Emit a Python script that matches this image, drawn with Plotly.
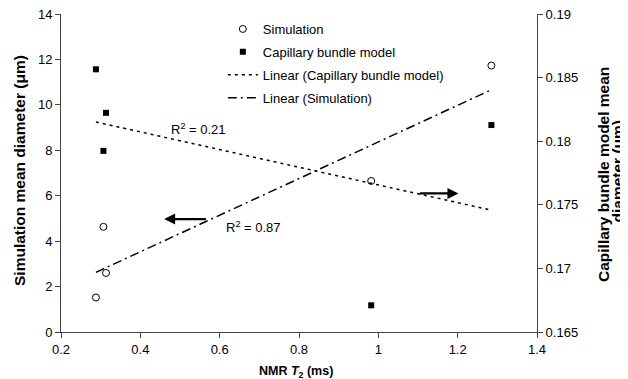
import numpy as np
import plotly.graph_objects as go

# Data
t2_ms = [0.288, 0.307, 0.3135, 0.982, 1.285]
sim_diam = [1.52, 4.63, 2.60, 6.65, 11.73]
cap_diam = [0.18565, 0.17924, 0.18223, 0.1671, 0.18127]
r2_labels = ["R<sup>2</sup> = 0.21", "R<sup>2</sup> = 0.87"]

x_ticks = [0.2, 0.4, 0.6, 0.8, 1.0, 1.2, 1.4]
x_ticktext = ["0.2", "0.4", "0.6", "0.8", "1", "1.2", "1.4"]
left_ticks = [0, 2, 4, 6, 8, 10, 12, 14]
right_ticks = [0.165, 0.17, 0.175, 0.18, 0.185, 0.19]
right_ticktext = ["0.165", "0.17", "0.175", "0.18", "0.185", "0.19"]

FONT = "Liberation Sans, Arial, sans-serif"

# Linear trend lines (least squares, as in the original spreadsheet)
x = np.array(t2_ms)
xs = np.array([x.min(), x.max()])
ps = np.polyfit(x, np.array(sim_diam), 1)
pc = np.polyfit(x, np.array(cap_diam), 1)

fig = go.Figure()
fig.add_trace(go.Scatter(
    x=t2_ms, y=sim_diam, mode="markers", name="Simulation", legendgroup="a",
    marker=dict(symbol="circle-open", size=7, color="black", line=dict(width=1, color="black")),
))
fig.add_trace(go.Scatter(
    x=t2_ms, y=cap_diam, mode="markers", name="Capillary bundle model", legendgroup="b",
    yaxis="y2", marker=dict(symbol="square", size=6, color="black"),
))
fig.add_trace(go.Scatter(
    x=xs, y=np.polyval(pc, xs), mode="lines", name="Linear (Capillary bundle model)",
    legendgroup="c", yaxis="y2", line=dict(color="black", width=1.5, dash="3px,4px"),
))
fig.add_trace(go.Scatter(
    x=xs, y=np.polyval(ps, xs), mode="lines", name="Linear (Simulation)",
    legendgroup="d", line=dict(color="black", width=1.5, dash="9px,4px,2px,4px"),
))

title_font = dict(family=FONT, color="black")
annotations = [
    # direction arrows
    dict(x=0.46, y=4.97, ax=0.569, ay=4.97, xref="x", yref="y", axref="x", ayref="y",
         showarrow=True, arrowhead=2, arrowsize=1, arrowwidth=2.2, arrowcolor="black", text=""),
    dict(x=1.202, y=6.10, ax=1.101, ay=6.10, xref="x", yref="y", axref="x", ayref="y",
         showarrow=True, arrowhead=2, arrowsize=1, arrowwidth=2.2, arrowcolor="black", text=""),
    # R² labels
    dict(x=0.547, y=8.94, xref="x", yref="y", text=r2_labels[0], showarrow=False,
         font=dict(size=13, color="black", family=FONT)),
    dict(x=0.685, y=4.63, xref="x", yref="y", text=r2_labels[1], showarrow=False,
         font=dict(size=13, color="black", family=FONT)),
    # axis titles
    dict(x=0.5, y=0, xref="paper", yref="paper", xshift=-3, yshift=-40,
         xanchor="center", yanchor="middle", showarrow=False,
         text="<b>NMR <i>T</i><sub>2</sub> (ms)</b>", font=dict(size=12.5, **title_font)),
    dict(x=0, y=0.5, xref="paper", yref="paper", xshift=-42, yshift=2, textangle=-90,
         xanchor="center", yanchor="middle", showarrow=False,
         text="<b>Simulation mean diameter (μm)</b>", font=dict(size=15.5, **title_font)),
    dict(x=1, y=0.5, xref="paper", yref="paper", xshift=66, yshift=-2, textangle=-90,
         xanchor="center", yanchor="middle", showarrow=False,
         text="<b>Capillary bundle model mean</b>", font=dict(size=15.5, **title_font)),
    dict(x=1, y=0.5, xref="paper", yref="paper", xshift=79.5, yshift=2, textangle=-90,
         xanchor="center", yanchor="middle", showarrow=False,
         text="<b>diameter (μm)</b>", font=dict(size=15.5, **title_font)),
]

axis_common = dict(showgrid=False, zeroline=False, showline=True, linecolor="#444",
                   linewidth=1, ticks="outside", ticklen=5, tickcolor="#444", automargin=False,
                   ticklabeloverflow="allow",
                   tickfont=dict(size=13, color="black", family=FONT))

# The page body adds an 8px offset, so the figure is sized to the visible area
fig.update_layout(
    width=620, height=371,
    margin=dict(l=53, r=91, t=6, b=47),
    plot_bgcolor="white", paper_bgcolor="white",
    font=dict(family=FONT, size=13, color="black"),
    showlegend=True,
    legend=dict(x=0.34, y=1.0, xanchor="left", yanchor="top",
                bgcolor="rgba(0,0,0,0)", borderwidth=0,
                tracegroupgap=3, font=dict(size=13, family=FONT, color="black")),
    xaxis=dict(range=[0.2, 1.4], tickvals=x_ticks, ticktext=x_ticktext, **axis_common),
    yaxis=dict(range=[0, 14], tickvals=left_ticks, **axis_common),
    yaxis2=dict(range=[0.165, 0.19], tickvals=right_ticks, ticktext=right_ticktext,
                overlaying="y", side="right", **axis_common),
    annotations=annotations,
)

fig.write_html("out.html")
